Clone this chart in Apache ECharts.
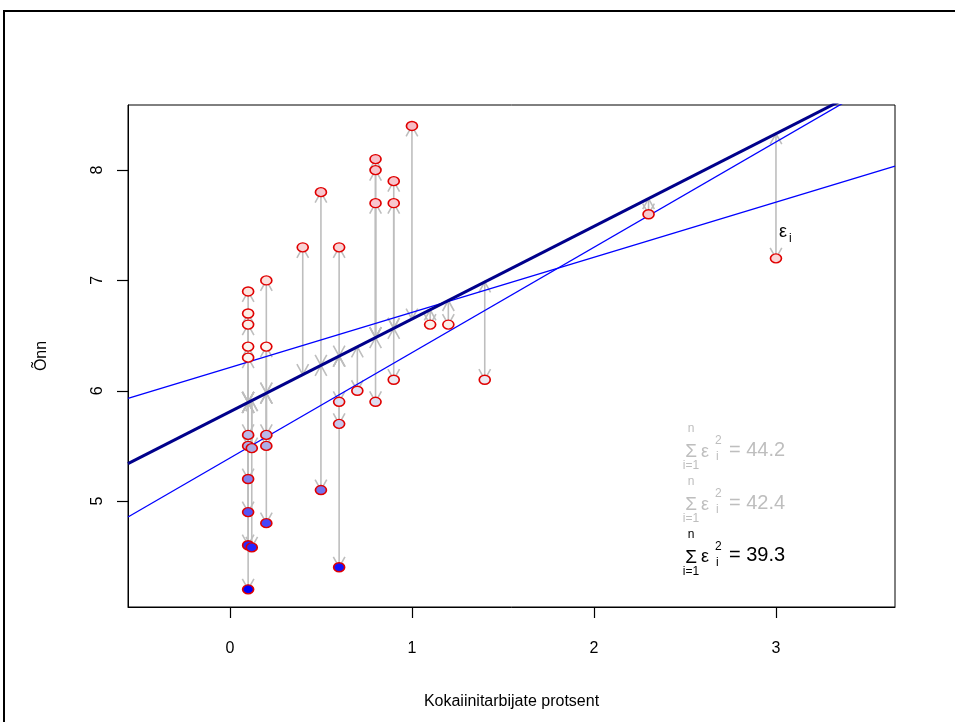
<!DOCTYPE html>
<html>
<head>
<meta charset="utf-8">
<script src="https://cdn.jsdelivr.net/npm/echarts@6/dist/echarts.min.js"></script>
<style>
  html, body { margin: 0; padding: 0; background: #fff; }
  #chart { width: 955px; height: 722px; }
</style>
</head>
<body>
<div id="chart"></div>
<script>
// Cocaine use (%) vs happiness, with three candidate regression lines
const cocaineX = [
  0.1, 0.1, 0.1, 0.1, 0.1, 0.1, 0.1, 0.1, 0.1, 0.1, 0.1,
  0.12, 0.12,
  0.2, 0.2, 0.2, 0.2, 0.2,
  0.4,
  0.5, 0.5,
  0.6, 0.6, 0.6, 0.6,
  0.7,
  0.8, 0.8, 0.8, 0.8,
  0.9, 0.9, 0.9,
  1.0, 1.1, 1.2, 1.4, 2.3, 3.0
];
const happiness = [
  6.9, 6.7, 6.6, 6.4, 6.3, 5.6, 5.5, 5.2, 4.9, 4.6, 4.2,
  5.48, 4.58,
  7.0, 6.4, 5.6, 5.5, 4.8,
  7.3,
  7.8, 5.1,
  7.3, 5.9, 5.7, 4.4,
  6.0,
  8.1, 8.0, 7.7, 5.9,
  7.9, 7.7, 6.1,
  8.4, 6.6, 6.6, 6.1, 7.6, 7.2
];

// candidate lines: [intercept, slope]
const flatLine = [6.21, 0.50];
const steepLine = [5.39, 0.955];
const bestLine = [5.81, 0.84];

// residual sums of squares for the three lines (flat, steep, best)
const sseLabels = ['44.2', '42.4', '39.3'];

const xTicks = [0, 1, 2, 3];
const yTicks = [5, 6, 7, 8];

const X_MIN = -0.56, X_MAX = 3.654;
const Y_MIN = 4.04, Y_MAX = 8.59;

const FONT = '"Liberation Sans", Arial, Helvetica, sans-serif';

const pointData = cocaineX.map((x, i) => [x, happiness[i]]);
const residData = cocaineX.map((x, i) => [x, happiness[i], bestLine[0] + bestLine[1] * x]);

function lineData(p) {
  return [[X_MIN, p[0] + p[1] * X_MIN], [X_MAX, p[0] + p[1] * X_MAX]];
}

const ARROW_LEN = 12;
const ARROW_ANG = 29 * Math.PI / 180;
const ARROW_COLOR = '#bebebe';
const TICK_LEN = 11;

function arrowHead(tip, from) {
  const dx = tip[0] - from[0], dy = tip[1] - from[1];
  const len = Math.sqrt(dx * dx + dy * dy) || 1;
  const ux = dx / len, uy = dy / len;
  const back = (ang) => {
    const c = Math.cos(ang), s = Math.sin(ang);
    const rx = ux * c - uy * s, ry = ux * s + uy * c;
    return [tip[0] - ARROW_LEN * rx, tip[1] - ARROW_LEN * ry];
  };
  return {
    type: 'polyline',
    shape: { points: [back(ARROW_ANG), tip, back(-ARROW_ANG)] },
    style: { stroke: ARROW_COLOR, lineWidth: 1.6, fill: null }
  };
}

function renderArrow(params, api) {
  const x = api.value(0);
  const pt = api.coord([x, api.value(1)]);
  const fit = api.coord([x, api.value(2)]);
  return {
    type: 'group',
    children: [
      {
        type: 'line',
        shape: { x1: fit[0], y1: fit[1], x2: pt[0], y2: pt[1] },
        style: { stroke: ARROW_COLOR, lineWidth: 1.6 }
      },
      arrowHead(pt, fit),
      arrowHead(fit, pt)
    ]
  };
}

const chart = echarts.init(document.getElementById('chart'), null, { renderer: 'canvas' });

const axisCommon = {
  type: 'value',
  splitLine: { show: false },
  axisLine: { show: true, onZero: false, lineStyle: { color: '#000', width: 1 } },
  axisTick: { show: true, inside: false, length: TICK_LEN, lineStyle: { color: '#000', width: 1.2 } },
  axisLabel: { color: '#000', fontSize: 16, fontFamily: FONT },
  nameTextStyle: { color: '#000', fontSize: 16, fontFamily: FONT }
};

chart.setOption({
  animation: false,
  backgroundColor: '#fff',
  grid: {
    left: 128, top: 105, width: 767, height: 502,
    show: true, borderColor: '#000', borderWidth: 1, backgroundColor: 'transparent'
  },
  xAxis: Object.assign({}, axisCommon, {
    min: X_MIN, max: X_MAX,
    name: 'Kokaiinitarbijate protsent',
    nameLocation: 'middle', nameGap: 87,
    axisTick: Object.assign({}, axisCommon.axisTick, { customValues: xTicks }),
    axisLabel: Object.assign({}, axisCommon.axisLabel, { customValues: xTicks, margin: 34 })
  }),
  yAxis: Object.assign({}, axisCommon, {
    min: Y_MIN, max: Y_MAX,
    name: 'Õnn',
    nameLocation: 'middle', nameGap: 78, nameRotate: 90,
    axisTick: Object.assign({}, axisCommon.axisTick, { customValues: yTicks }),
    axisLabel: Object.assign({}, axisCommon.axisLabel, { customValues: yTicks, rotate: 90, margin: 22 })
  }),
  visualMap: {
    show: false,
    type: 'continuous',
    seriesIndex: 4,
    dimension: 1,
    min: 4.2, max: 8.4,
    inRange: {
      color: ['#0000ff', '#2a2aff', '#6a6af0', '#a8a8e4', '#dcdcf0', '#fbf6f4',
              '#fdeee4', '#fad8d8', '#f8cad0', '#f7c2ca', '#f6bcc6']
    }
  },
  series: [
    {
      type: 'custom',
      renderItem: renderArrow,
      data: residData,
      clip: true,
      z: 1
    },
    {
      type: 'line', data: lineData(flatLine), symbol: 'none', clip: true,
      lineStyle: { color: '#0000ff', width: 1.3 }, z: 2
    },
    {
      type: 'line', data: lineData(steepLine), symbol: 'none', clip: true,
      lineStyle: { color: '#0000ff', width: 1.3 }, z: 2
    },
    {
      type: 'line', data: lineData(bestLine), symbol: 'none', clip: true,
      lineStyle: { color: '#00008b', width: 3 }, z: 3
    },
    {
      type: 'scatter',
      data: pointData,
      symbol: 'path://M0,1A1,1,0,1,1,2,1A1,1,0,1,1,0,1Z',
      symbolSize: [11, 9],
      itemStyle: { borderColor: '#e00000', borderWidth: 1.5, opacity: 1 },
      z: 4
    }
  ]
});

// Annotations: residual label and the three sums of squared residuals
function sumGroup(anchor, value, color) {
  const cx = anchor[0], cy = anchor[1];
  const t = (text, x, y, size, align) => ({
    type: 'text',
    x: x, y: y,
    style: {
      text: text, fill: color, fontSize: size, fontFamily: FONT,
      align: align || 'center', verticalAlign: 'middle'
    }
  });
  return {
    type: 'group',
    children: [
      t('\u03a3', cx - 38, cy + 2, 19),
      t('n', cx - 38, cy - 21, 12),
      t('i=1', cx - 38, cy + 16, 12),
      t('\u03b5', cx - 28, cy + 2, 18, 'left'),
      t('2', cx - 14, cy - 9, 12, 'left'),
      t('i', cx - 13, cy + 7, 12, 'left'),
      t('= ' + value, cx, cy, 20, 'left')
    ]
  };
}

const sumAnchorsY = [5.462, 4.982, 4.507];
const sumColors = ['#bebebe', '#bebebe', '#000000'];
const graphics = sumLabelsGraphics();

function sumLabelsGraphics() {
  const out = [];
  sseLabels.forEach((v, i) => {
    const p = chart.convertToPixel({ gridIndex: 0 }, [2.742, sumAnchorsY[i]]);
    out.push(sumGroup(p, v, sumColors[i]));
  });
  const e = chart.convertToPixel({ gridIndex: 0 }, [3.016, 7.435]);
  out.push({
    type: 'group',
    children: [
      { type: 'text', x: e[0], y: e[1],
        style: { text: '\u03b5', fill: '#000', fontSize: 18, fontFamily: FONT, align: 'left', verticalAlign: 'middle' } },
      { type: 'text', x: e[0] + 10, y: e[1] + 6,
        style: { text: 'i', fill: '#000', fontSize: 12, fontFamily: FONT, align: 'left', verticalAlign: 'middle' } }
    ]
  });
  // outer figure frame
  out.push({
    type: 'rect',
    shape: { x: 4, y: 11, width: 970, height: 740 },
    style: { fill: 'none', stroke: '#000', lineWidth: 2 },
    silent: true
  });
  return out;
}

chart.setOption({ graphic: graphics });
</script>
</body>
</html>
